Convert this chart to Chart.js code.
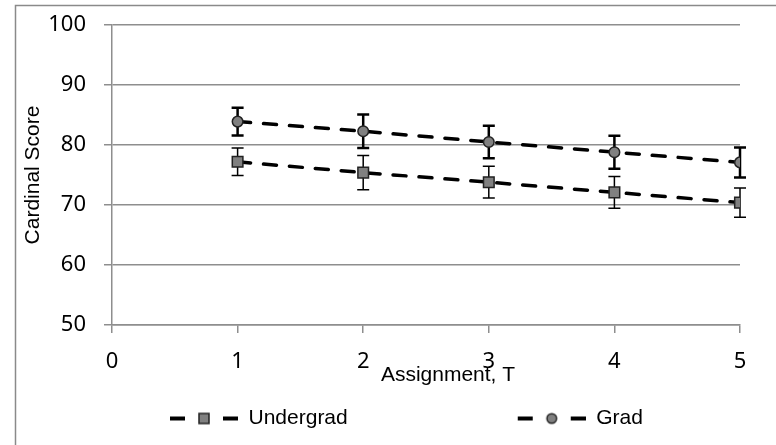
<!DOCTYPE html>
<html>
<head>
<meta charset="utf-8">
<script src="https://cdn.jsdelivr.net/npm/chart.js@4.4.1/dist/chart.umd.min.js"></script>
<style>
  html, body { margin: 0; padding: 0; background: #fff; overflow: hidden; }
  #wrap { position: relative; width: 776px; height: 445px; }
</style>
</head>
<body>
<div id="wrap"><canvas id="scoreChart"></canvas></div>
<script>
// values
const assignments = [1, 2, 3, 4, 5];
const undergradScores = [77.2, 75.4, 73.8, 72.1, 70.4];
const undergradErrors = [2.3, 2.85, 2.65, 2.65, 2.45];
const gradScores = [83.9, 82.3, 80.5, 78.8, 77.1];
const gradErrors = [2.3, 2.8, 2.7, 2.75, 2.5];
const xTicks = [0, 1, 2, 3, 4, 5];
const yTicks = [50, 60, 70, 80, 90, 100];
const xTitle = 'Assignment, T';

const labelFont = '"Liberation Sans", Arial, sans-serif';
const tickFont = '"Noto Sans", "Open Sans", sans-serif';
const gridGray = '#8e8e8e';
const markerGray = '#808080';

// legend sample: dash, marker, dash (right-aligned in a wide box)
function legendSymbol(style, w) {
  const c = document.createElement('canvas');
  c.width = w;
  c.height = 20;
  const g = c.getContext('2d');
  const x0 = w - 68;
  g.strokeStyle = '#000';
  g.lineWidth = 4;
  g.beginPath();
  g.moveTo(x0, 10); g.lineTo(x0 + 15, 10);
  g.moveTo(w - 15, 10); g.lineTo(w, 10);
  g.stroke();
  g.fillStyle = markerGray;
  g.strokeStyle = '#222';
  g.lineWidth = 1.5;
  const cx = x0 + 34;
  g.beginPath();
  if (style === 'rect') g.rect(cx - 5, 5, 10, 10);
  else g.arc(cx, 10, 4.8, 0, Math.PI * 2);
  g.fill();
  g.stroke();
  return c;
}

const legendBox = 228;
const errorSets = [undergradErrors, gradErrors];
const errorWidths = [1.5, 2.5];

const errorBars = {
  id: 'errorBars',
  beforeDatasetsDraw(chart) {
    const { ctx, scales: { x, y } } = chart;
    ctx.save();
    ctx.strokeStyle = '#000';
    chart.data.datasets.forEach((ds, i) => {
      if (!chart.isDatasetVisible(i)) return;
      ctx.lineWidth = errorWidths[i];
      ds.data.forEach((p, j) => {
        const e = errorSets[i][j];
        const px = x.getPixelForValue(p.x);
        const top = y.getPixelForValue(p.y + e);
        const bot = y.getPixelForValue(p.y - e);
        ctx.beginPath();
        ctx.moveTo(px, top); ctx.lineTo(px, bot);
        ctx.moveTo(px - 6, top); ctx.lineTo(px + 6, top);
        ctx.moveTo(px - 6, bot); ctx.lineTo(px + 6, bot);
        ctx.stroke();
      });
    });
    ctx.restore();
  }
};

// frame round the figure + x axis title (sits a bit right of centre, overlapping the tick row)
const frameAndTitle = {
  id: 'frameAndTitle',
  beforeDraw(chart) {
    const ctx = chart.ctx;
    ctx.save();
    ctx.strokeStyle = '#8a8a8a';
    ctx.lineWidth = 1.5;
    ctx.strokeRect(15.5, 5.5, 900, 600);
    ctx.restore();
  },
  afterDraw(chart) {
    const { ctx, chartArea } = chart;
    ctx.save();
    ctx.font = '21px ' + labelFont;
    ctx.fillStyle = '#000';
    ctx.textAlign = 'center';
    ctx.textBaseline = 'alphabetic';
    ctx.fillText(xTitle, (chartArea.left + chartArea.right) / 2 + 22, chartArea.bottom + 56);
    ctx.restore();
  }
};

const ctx = document.getElementById('scoreChart').getContext('2d');
new Chart(ctx, {
  type: 'line',
  data: {
    datasets: [{
      label: 'Undergrad',
      data: assignments.map((a, i) => ({ x: a, y: undergradScores[i] })),
      borderColor: '#000',
      borderWidth: 3.5,
      borderDash: [13, 13],
      borderCapStyle: 'round',
      pointStyle: 'rect',
      pointRadius: 7.5,
      pointBackgroundColor: markerGray,
      pointBorderColor: '#222',
      pointBorderWidth: 1.5,
      legendImage: 'rect'
    }, {
      label: 'Grad',
      data: assignments.map((a, i) => ({ x: a, y: gradScores[i] })),
      borderColor: '#000',
      borderWidth: 3.5,
      borderDash: [13, 13],
      borderCapStyle: 'round',
      pointStyle: 'circle',
      pointRadius: 5.3,
      pointBackgroundColor: markerGray,
      pointBorderColor: '#222',
      pointBorderWidth: 1.5,
      legendImage: 'circle'
    }]
  },
  options: {
    responsive: true,
    maintainAspectRatio: false,
    animation: false,
    layout: { padding: { top: 25, right: 36, left: 0, bottom: 6 } },
    scales: {
      x: {
        type: 'linear',
        min: 0,
        max: 5,
        afterBuildTicks: s => { s.ticks = xTicks.map(v => ({ value: v })); },
        afterFit: s => { s.height = 73; },
        grid: { drawOnChartArea: false, drawTicks: true, tickLength: 8, color: gridGray, lineWidth: 1.5 },
        border: { color: gridGray, width: 1.5 },
        ticks: { color: '#000', padding: 16, font: { family: tickFont, size: 22 } }
      },
      y: {
        min: 50,
        max: 100,
        afterBuildTicks: s => { s.ticks = yTicks.map(v => ({ value: v })); },
        afterFit: s => { s.width = 112; s.paddingTop = 0; s.paddingBottom = 0; },
        grid: { drawTicks: true, tickLength: 8, color: gridGray, lineWidth: 1.5 },
        border: { color: gridGray, width: 1.5 },
        ticks: { color: '#000', padding: 18, font: { family: tickFont, size: 22 } },
        title: {
          display: true,
          text: 'Cardinal Score',
          color: '#000',
          padding: { top: 20.5, bottom: 0 },
          font: { family: labelFont, size: 21 }
        }
      }
    },
    plugins: {
      tooltip: { enabled: false },
      legend: {
        position: 'bottom',
        align: 'start',
        labels: {
          usePointStyle: true,
          pointStyleWidth: legendBox,
          padding: 10,
          color: '#000',
          font: { family: labelFont, size: 21 },
          generateLabels: chart => chart.data.datasets.map((ds, i) => ({
            text: ds.label,
            datasetIndex: i,
            hidden: !chart.isDatasetVisible(i),
            fontColor: '#000',
            lineWidth: 0,
            strokeStyle: 'rgba(0,0,0,0)',
            fillStyle: 'rgba(0,0,0,0)',
            pointStyle: legendSymbol(ds.legendImage, legendBox)
          }))
        }
      }
    }
  },
  plugins: [errorBars, frameAndTitle]
});
</script>
</body>
</html>
